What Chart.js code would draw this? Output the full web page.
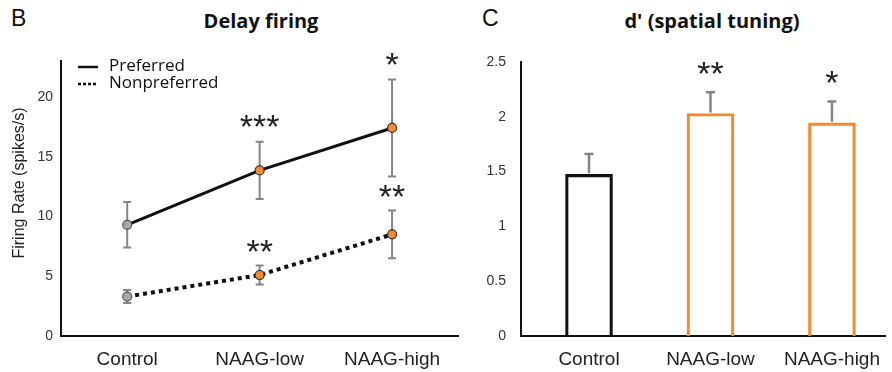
<!DOCTYPE html>
<html lang="en">
<head>
    <meta charset="UTF-8">
    <title>Delay firing and d' (spatial tuning)</title>
    <style>
        body {
            margin: 0;
            width: 892px;
            height: 372px;
            overflow: hidden;
            background: white;
            position: relative;
            font-family: "Liberation Sans", Arial, sans-serif;
        }
        .box {
            position: absolute;
            top: 0;
            height: 372px;
        }
        #boxB { left: 0; width: 464px; }
        #boxC { left: 449px; width: 443px; }
        .letter {
            position: absolute;
            font-size: 23px;
            color: #111;
            line-height: 1;
        }
        .title {
            position: absolute;
            font-family: "Open Sans", sans-serif;
            font-weight: 700;
            font-size: 20px;
            color: #111;
            transform: translateX(-50%);
            white-space: nowrap;
        }
    </style>
</head>
<body>
    <div class="letter" style="left:11px; top:7px;">B</div>
    <div class="title" style="left:261px; top:7px;">Delay firing</div>
    <div class="letter" style="left:482px; top:7px;">C</div>
    <div class="title" style="left:712px; top:7px;">d' (spatial tuning)</div>

    <div class="box" id="boxB"><canvas id="chartB"></canvas></div>
    <div class="box" id="boxC"><canvas id="chartC"></canvas></div>

    <script src="https://cdn.jsdelivr.net/npm/chart.js"></script>
    <script>
        const categories = ['Control', 'NAAG-low', 'NAAG-high'];

        // panel B: firing rate (spikes/s), mean and error
        const preferred = [9.3, 13.85, 17.4];
        const preferredErr = [1.9, 2.4, 4.05];
        const preferredStars = ['', '***', '*'];
        const nonpreferred = [3.3, 5.1, 8.5];
        const nonpreferredErr = [0.55, 0.8, 2.0];
        const nonpreferredStars = ['', '**', '**'];
        const yTitleB = 'Firing Rate (spikes/s)';

        // panel C: d'
        const dprime = [1.475, 2.03, 1.945];
        const dprimeErr = [0.185, 0.195, 0.195];
        const dprimeStars = ['', '**', '*'];

        const orange = '#f28a2e';
        const errGray = '#858585';
        const fontFamily = '"Liberation Sans", Arial, sans-serif';

        function drawStars(ctx, text, x, y) {
            if (!text) return;
            ctx.save();
            ctx.fillStyle = '#222';
            ctx.font = '34px ' + fontFamily;
            ctx.textAlign = 'center';
            ctx.textBaseline = 'alphabetic';
            ctx.fillText(text, x, y);
            ctx.restore();
        }

        const errorBarsB = {
            id: 'errorBarsB',
            beforeDatasetsDraw(chart) {
                const { ctx, scales } = chart;
                const sets = [[preferred, preferredErr], [nonpreferred, nonpreferredErr]];
                ctx.save();
                ctx.strokeStyle = errGray;
                ctx.lineWidth = 2;
                sets.forEach(([vals, errs]) => {
                    vals.forEach((v, i) => {
                        const x = scales.x.getPixelForValue(i);
                        const t = scales.y.getPixelForValue(v + errs[i]);
                        const b = scales.y.getPixelForValue(v - errs[i]);
                        ctx.beginPath();
                        ctx.moveTo(x, t); ctx.lineTo(x, b);
                        ctx.moveTo(x - 4, t); ctx.lineTo(x + 4, t);
                        ctx.moveTo(x - 4, b); ctx.lineTo(x + 4, b);
                        ctx.stroke();
                    });
                });
                ctx.restore();
            },
            afterDatasetsDraw(chart) {
                const { ctx, scales } = chart;
                preferred.forEach((v, i) => {
                    const x = scales.x.getPixelForValue(i);
                    drawStars(ctx, preferredStars[i], x, scales.y.getPixelForValue(v + preferredErr[i]) - 4);
                });
                nonpreferred.forEach((v, i) => {
                    const x = scales.x.getPixelForValue(i);
                    drawStars(ctx, nonpreferredStars[i], x, scales.y.getPixelForValue(v + nonpreferredErr[i]) - 2);
                });

                // y title, sits a bit above the axis middle like the original
                ctx.save();
                ctx.translate(20, 183);
                ctx.rotate(-Math.PI / 2);
                ctx.fillStyle = '#222';
                ctx.font = '16px ' + fontFamily;
                ctx.textAlign = 'center';
                ctx.textBaseline = 'middle';
                ctx.fillText(yTitleB, 0, 0);
                ctx.restore();

                // legend
                ctx.save();
                ctx.strokeStyle = '#111';
                ctx.lineWidth = 2.5;
                ctx.beginPath();
                ctx.moveTo(78, 67); ctx.lineTo(98, 67);
                ctx.stroke();
                ctx.setLineDash([3, 2]);
                ctx.beginPath();
                ctx.moveTo(78, 84); ctx.lineTo(98, 84);
                ctx.stroke();
                ctx.setLineDash([]);
                ctx.fillStyle = '#111';
                ctx.font = '17px "Open Sans", sans-serif';
                ctx.textBaseline = 'middle';
                ctx.fillText(chart.data.datasets[0].label, 109, 66);
                ctx.fillText(chart.data.datasets[1].label, 109, 83);
                ctx.restore();
            }
        };

        new Chart(document.getElementById('chartB'), {
            type: 'line',
            data: {
                labels: categories,
                datasets: [{
                    label: 'Preferred',
                    data: preferred,
                    borderColor: '#111',
                    borderWidth: 3,
                    pointRadius: 4.5,
                    pointBackgroundColor: ['#a8a8a8', orange, orange],
                    pointBorderColor: ['#555', '#333', '#333'],
                    pointBorderWidth: 1.2
                }, {
                    label: 'Nonpreferred',
                    data: nonpreferred,
                    borderColor: '#111',
                    borderWidth: 4,
                    borderDash: [4, 4],
                    pointRadius: 4.5,
                    pointBackgroundColor: ['#a8a8a8', orange, orange],
                    pointBorderColor: ['#555', '#333', '#333'],
                    pointBorderWidth: 1.2
                }]
            },
            options: {
                responsive: true,
                maintainAspectRatio: false,
                animation: false,
                events: [],
                layout: { padding: { top: 61, right: 0, bottom: 0, left: 0 } },
                plugins: { legend: { display: false }, tooltip: { enabled: false } },
                scales: {
                    x: {
                        offset: true,
                        grid: { display: false, drawTicks: false },
                        border: { color: '#111', width: 2 },
                        ticks: { color: '#222', font: { family: fontFamily, size: 19 }, padding: 12 },
                        afterFit(scale) { scale.height = 36; }
                    },
                    y: {
                        min: 0,
                        max: 23,
                        grid: { display: false, drawTicks: false },
                        border: { color: '#111', width: 2 },
                        ticks: { stepSize: 5, color: '#333', font: { family: fontFamily, size: 14 }, padding: 8 },
                        afterBuildTicks(scale) {
                            scale.ticks = scale.ticks.filter(t => t.value % 5 === 0);
                        },
                        afterFit(scale) { scale.width = 61; }
                    }
                }
            },
            plugins: [errorBarsB]
        });

        const errorBarsC = {
            id: 'errorBarsC',
            afterDatasetsDraw(chart) {
                const { ctx, scales } = chart;
                ctx.save();
                ctx.strokeStyle = errGray;
                ctx.lineWidth = 2.5;
                dprime.forEach((v, i) => {
                    const x = scales.x.getPixelForValue(i);
                    const b = scales.y.getPixelForValue(v) - 1;
                    const t = scales.y.getPixelForValue(v + dprimeErr[i]);
                    ctx.beginPath();
                    ctx.moveTo(x, t); ctx.lineTo(x, b);
                    ctx.moveTo(x - 4.5, t); ctx.lineTo(x + 4.5, t);
                    ctx.stroke();
                });
                ctx.restore();
                dprime.forEach((v, i) => {
                    const x = scales.x.getPixelForValue(i);
                    drawStars(ctx, dprimeStars[i], x, scales.y.getPixelForValue(v + dprimeErr[i]) - 7);
                });
            }
        };

        new Chart(document.getElementById('chartC'), {
            type: 'bar',
            data: {
                datasets: [{
                    label: "d'",
                    data: dprime.map((v, i) => ({ x: i, y: v })),
                    backgroundColor: 'rgba(255,255,255,0)',
                    borderColor: ['#111', orange, orange],
                    borderWidth: 2.5,
                    barThickness: 47
                }]
            },
            options: {
                responsive: true,
                maintainAspectRatio: false,
                animation: false,
                events: [],
                layout: { padding: { top: 62, right: 0, bottom: 0, left: 0 } },
                plugins: { legend: { display: false }, tooltip: { enabled: false } },
                scales: {
                    x: {
                        type: 'linear',
                        offset: false,
                        min: -0.56,
                        max: 2.44,
                        grid: { display: false, drawTicks: false, offset: false },
                        border: { color: '#111', width: 2 },
                        ticks: {
                            color: '#222',
                            font: { family: fontFamily, size: 19 },
                            padding: 12,
                            callback: v => categories[v]
                        },
                        afterBuildTicks(scale) {
                            scale.ticks = categories.map((c, i) => ({ value: i }));
                        },
                        afterFit(scale) { scale.height = 36; }
                    },
                    y: {
                        min: 0,
                        max: 2.5,
                        grid: { display: false, drawTicks: false },
                        border: { color: '#111', width: 2 },
                        ticks: {
                            stepSize: 0.5,
                            color: '#333',
                            font: { family: fontFamily, size: 14 },
                            padding: 15,
                            callback: v => String(v)
                        },
                        afterFit(scale) { scale.width = 72; }
                    }
                }
            },
            plugins: [errorBarsC]
        });
    </script>
</body>
</html>
